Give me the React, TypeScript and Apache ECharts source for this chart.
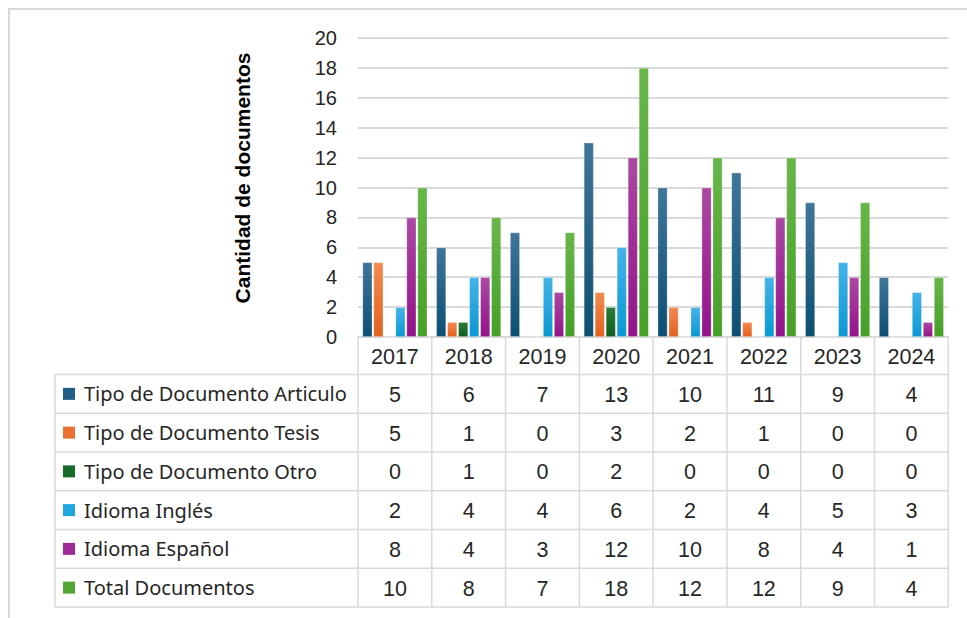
import React, { useEffect, useRef } from "react";
import * as echarts from "echarts";

const years = ["2017", "2018", "2019", "2020", "2021", "2022", "2023", "2024"];
const seriesNames = [
  "Tipo de Documento Articulo",
  "Tipo de Documento Tesis",
  "Tipo de Documento Otro",
  "Idioma Inglés",
  "Idioma Español",
  "Total Documentos",
];
const articulo = [5, 6, 7, 13, 10, 11, 9, 4];
const tesis = [5, 1, 0, 3, 2, 1, 0, 0];
const otro = [0, 1, 0, 2, 0, 0, 0, 0];
const ingles = [2, 4, 4, 6, 2, 4, 5, 3];
const espanol = [8, 4, 3, 12, 10, 8, 4, 1];
const total = [10, 8, 7, 18, 12, 12, 9, 4];
const seriesValues = [articulo, tesis, otro, ingles, espanol, total];
const yAxisTitle = "Cantidad de documentos";
const yMin = 0;
const yMax = 20;
const yStep = 2;

const topColors = ["#40759a", "#f28a52", "#2a7d38", "#45b3e8", "#ab48a3", "#68b64a"];
const bottomColors = ["#0c4f73", "#e2621f", "#0f5c20", "#0a98d4", "#93138a", "#45a027"];
const keyColors = ["#1f5f84", "#ea7131", "#196b2a", "#1ea6df", "#9f2a97", "#52a834"];

const W = 967;
const H = 618;
const gridLeft = 358;
const gridRight = 948.3;
const gridTop = 38;
const gridBottom = 337;
const tableLeft = 55;
const headerBottom = 374.5;
const rowH = 38.75;
const gridLineColor = "#d9d9d9";
const textColor = "#262626";

export default function App() {
  const ref = useRef<HTMLDivElement>(null);

  useEffect(() => {
    if (!ref.current) return;
    const chart = echarts.init(ref.current, null, { renderer: "svg" });
    const colW = (gridRight - gridLeft) / years.length;
    const tableBottom = headerBottom + rowH * seriesNames.length;

    const graphics: any[] = [];
    graphics.push({
      type: "polyline",
      shape: { points: [[9, H + 5], [9, 9], [W + 5, 9]] },
      style: { stroke: "#d9d9d9", lineWidth: 2, fill: "none" },
      silent: true,
    });
    graphics.push({
      type: "text",
      x: 242,
      y: 178,
      rotation: Math.PI / 2,
      style: {
        text: yAxisTitle,
        fontFamily: "Liberation Sans, Arial, sans-serif",
        fontWeight: "bold",
        fontSize: 21,
        fill: "#000",
        align: "center",
        verticalAlign: "middle",
      },
    });
    for (let i = 0; i <= years.length; i++) {
      const x = gridLeft + i * colW;
      graphics.push({
        type: "line",
        shape: { x1: x, y1: gridBottom, x2: x, y2: tableBottom },
        style: { stroke: gridLineColor, lineWidth: 1.5 },
        silent: true,
      });
    }
    graphics.push({
      type: "line",
      shape: { x1: tableLeft, y1: headerBottom, x2: tableLeft, y2: tableBottom },
      style: { stroke: gridLineColor, lineWidth: 1.5 },
      silent: true,
    });
    for (let r = 0; r <= seriesNames.length; r++) {
      const y = headerBottom + r * rowH;
      graphics.push({
        type: "line",
        shape: { x1: tableLeft, y1: y, x2: gridRight, y2: y },
        style: { stroke: gridLineColor, lineWidth: 1.5 },
        silent: true,
      });
    }
    years.forEach((yr, i) => {
      graphics.push({
        type: "text",
        x: gridLeft + (i + 0.5) * colW,
        y: (gridBottom + headerBottom) / 2 + 1,
        style: {
          text: yr,
          fontFamily: "Liberation Sans, Arial, sans-serif",
          fontSize: 21.5,
          fill: textColor,
          align: "center",
          verticalAlign: "middle",
        },
      });
    });
    seriesNames.forEach((name, r) => {
      const cy = headerBottom + (r + 0.5) * rowH;
      graphics.push({
        type: "rect",
        shape: { x: 63, y: cy - 6, width: 12, height: 12 },
        style: { fill: keyColors[r] },
      });
      graphics.push({
        type: "text",
        x: 84,
        y: cy,
        style: {
          text: name,
          fontFamily: "Noto Sans, sans-serif",
          fontSize: 20,
          fill: textColor,
          align: "left",
          verticalAlign: "middle",
        },
      });
      seriesValues[r].forEach((v, i) => {
        graphics.push({
          type: "text",
          x: gridLeft + (i + 0.5) * colW,
          y: cy + 1,
          style: {
            text: String(v),
            fontFamily: "Liberation Sans, Arial, sans-serif",
            fontSize: 21.5,
            fill: textColor,
            align: "center",
            verticalAlign: "middle",
          },
        });
      });
    });

    chart.setOption({
      animation: false,
      backgroundColor: "#ffffff",
      grid: {
        left: gridLeft,
        right: W - gridRight,
        top: gridTop,
        bottom: H - gridBottom,
        containLabel: false,
      },
      xAxis: {
        type: "category",
        data: years,
        axisLabel: { show: false },
        axisTick: { show: false },
        axisLine: { show: true, lineStyle: { color: gridLineColor, width: 1.5 } },
      },
      yAxis: {
        type: "value",
        min: yMin,
        max: yMax,
        interval: yStep,
        axisLine: { show: false },
        axisTick: { show: false },
        splitLine: { lineStyle: { color: gridLineColor, width: 2 } },
        axisLabel: {
          margin: 21,
          fontFamily: "Liberation Sans, Arial, sans-serif",
          fontSize: 20,
          color: textColor,
        },
      },
      series: seriesNames.map((name, k) => ({
        type: "bar",
        name,
        data: seriesValues[k],
        barWidth: 10,
        barGap: "10%",
        itemStyle: {
          color: new echarts.graphic.LinearGradient(0, 0, 0, 1, [
            { offset: 0, color: topColors[k] },
            { offset: 1, color: bottomColors[k] },
          ]),
          borderColor: "rgba(255,255,255,0.35)",
          borderWidth: 0.8,
        },
      })),
      graphic: graphics,
    });
    return () => chart.dispose();
  }, []);

  return (
    <div
      ref={ref}
      style={{ position: "fixed", left: 0, top: 0, width: W, height: H }}
    />
  );
}
